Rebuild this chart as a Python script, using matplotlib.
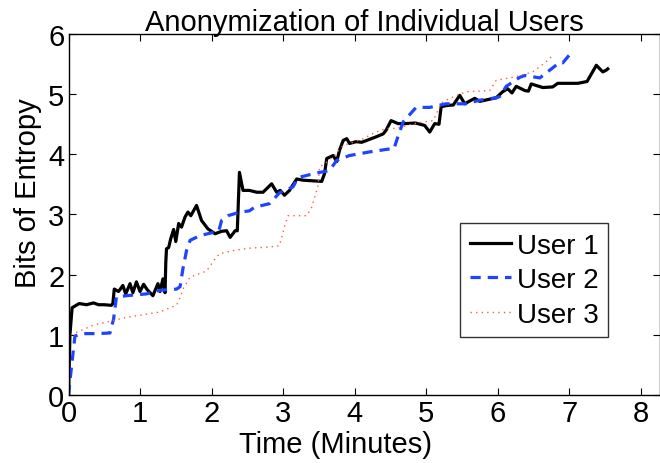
import matplotlib.pyplot as plt
import numpy as np

plt.rcParams['font.family'] = ['Liberation Sans', 'DejaVu Sans']

# User 1 (black, solid)
u1_x = [0.0, 0.02, 0.05, 0.15, 0.25, 0.35, 0.42, 0.5, 0.6, 0.62, 0.64, 0.7, 0.76, 0.8,
        0.86, 0.9, 0.95, 1.0, 1.05, 1.1, 1.18, 1.25, 1.28, 1.32, 1.35, 1.36, 1.37,
        1.4, 1.43, 1.47, 1.5, 1.54, 1.58, 1.63, 1.67, 1.71, 1.79, 1.86, 1.95, 2.05,
        2.14, 2.21, 2.26, 2.33, 2.36, 2.39, 2.44, 2.53, 2.63, 2.72, 2.84, 2.91,
        2.96, 3.02, 3.09, 3.19, 3.28, 3.54, 3.58, 3.61, 3.7, 3.75, 3.79, 3.84, 3.89,
        3.93, 4.02, 4.1, 4.3, 4.4, 4.44, 4.51, 4.61, 4.7, 4.85, 4.98, 5.05, 5.12,
        5.18, 5.21, 5.28, 5.38, 5.47, 5.54, 5.6, 5.68, 5.75, 5.98, 6.07, 6.14,
        6.2, 6.26, 6.38, 6.43, 6.47, 6.63, 6.77, 6.84, 7.12, 7.25, 7.38, 7.47,
        7.52, 7.54]
u1_y = [0.0, 1.0, 1.45, 1.52, 1.5, 1.53, 1.5, 1.5, 1.49, 1.52, 1.76, 1.72, 1.82, 1.68,
        1.85, 1.7, 1.88, 1.72, 1.84, 1.75, 1.65, 1.85, 1.72, 1.93, 1.7, 2.2, 2.43,
        2.45, 2.6, 2.75, 2.55, 2.85, 2.79, 2.96, 3.04, 2.98, 3.15, 2.9, 2.76,
        2.68, 2.72, 2.73, 2.62, 2.73, 2.73, 3.7, 3.4, 3.4, 3.37, 3.37, 3.51, 3.37,
        3.4, 3.32, 3.4, 3.59, 3.57, 3.55, 3.68, 3.93, 3.98, 3.88, 4.07, 4.23, 4.26,
        4.18, 4.21, 4.2, 4.29, 4.34, 4.4, 4.56, 4.51, 4.51, 4.52, 4.48, 4.37, 4.51,
        4.5, 4.79, 4.81, 4.82, 4.98, 4.84, 4.88, 4.93, 4.88, 4.94, 5.04, 5.09,
        5.02, 5.13, 5.06, 5.05, 5.17, 5.11, 5.12, 5.18, 5.18, 5.21, 5.48, 5.37,
        5.4, 5.42]

# User 2 (blue, dashed)
u2_x = [0.0, 0.04, 0.09, 0.2, 0.4, 0.58, 0.63, 0.67, 0.81, 1.09, 1.28, 1.51, 1.56,
        1.6, 1.65, 1.7, 1.84, 2.02, 2.1, 2.14, 2.23, 2.4, 2.53, 2.6, 2.81, 2.95,
        3.14, 3.19, 3.23, 3.47, 3.65, 3.75, 3.93, 4.21, 4.49, 4.55, 4.61, 4.68,
        4.86, 5.05, 5.28, 5.56, 5.75, 5.98, 6.03, 6.12, 6.31, 6.38, 6.59, 6.73,
        6.87, 6.91, 7.03]
u2_y = [0.0, 0.45, 0.98, 1.02, 1.02, 1.03, 1.26, 1.63, 1.65, 1.68, 1.74, 1.76, 1.8,
        2.1, 2.4, 2.57, 2.65, 2.7, 2.72, 2.9, 2.98, 3.04, 3.06, 3.12, 3.18, 3.36,
        3.46, 3.57, 3.62, 3.69, 3.73, 3.9, 3.98, 4.04, 4.09, 4.09, 4.31, 4.54,
        4.78, 4.78, 4.84, 4.84, 4.9, 4.94, 4.96, 5.13, 5.28, 5.31, 5.27, 5.4,
        5.53, 5.52, 5.69]

# User 3 (red, dotted)
u3_x = [0.0, 0.0, 0.05, 0.35, 0.81, 1.28, 1.44, 1.51, 1.56, 1.6, 1.7, 1.93, 2.07,
        2.12, 2.3, 2.53, 2.81, 2.95, 3.02, 3.07, 3.33, 3.4, 3.49, 3.51, 3.61, 3.72,
        3.84, 3.93, 4.12, 4.3, 4.44, 4.58, 4.82, 5.1, 5.21, 5.33, 5.56, 5.89,
        5.98, 6.21, 6.31, 6.49, 6.66, 6.75, 6.8]
u3_y = [0.0, 0.95, 1.01, 1.16, 1.29, 1.38, 1.46, 1.49, 1.62, 1.76, 1.96, 2.06, 2.3,
        2.35, 2.4, 2.44, 2.46, 2.48, 2.8, 2.98, 2.98, 3.12, 3.48, 3.79, 3.87, 3.98,
        4.15, 4.18, 4.26, 4.37, 4.43, 4.43, 4.51, 4.56, 4.85, 4.93, 5.04, 5.06,
        5.23, 5.28, 5.31, 5.37, 5.52, 5.62, 5.62]

fig = plt.figure(figsize=(6.6, 4.64), dpi=100)
ax = fig.add_axes([0.1038, 0.1466, 0.8962, 0.778])

ax.plot(u1_x, u1_y, color='black', linewidth=2.3, label='User 1')
ax.plot(u2_x, u2_y, color='#1f44ff', linewidth=2.3, linestyle=(0, (3.2, 2.2)), label='User 2')
ax.plot(u3_x, u3_y, color='#ff5a3c', linewidth=1.0, linestyle=(0, (1, 3)), label='User 3')

ax.set_xlim(0, 8.27)
ax.set_ylim(0, 6)
ax.set_xticks(np.arange(0, 9, 1))
ax.set_yticks(np.arange(0, 7, 1))
ax.tick_params(direction='in', length=5, width=0.8, labelsize=21, top=True, right=True, pad=3)
for s in ax.spines.values():
    s.set_linewidth(1.0)

ax.set_title('Anonymization of Individual Users', fontsize=21, pad=3)
ax.set_xlabel('Time (Minutes)', fontsize=21)
ax.set_ylabel('Bits of Entropy', fontsize=21)
ax.xaxis.set_label_coords(0.452, -0.098)
ax.yaxis.set_label_coords(-0.045, 0.562)

leg = ax.legend(loc='upper left', bbox_to_anchor=(0.662, 0.476), fontsize=20,
                frameon=True, fancybox=False, edgecolor='black', handlelength=1.5,
                handletextpad=0.2, borderpad=0.35, labelspacing=0.3, borderaxespad=0)
leg.get_frame().set_linewidth(1.0)

fig.savefig('out.png', dpi=100)
